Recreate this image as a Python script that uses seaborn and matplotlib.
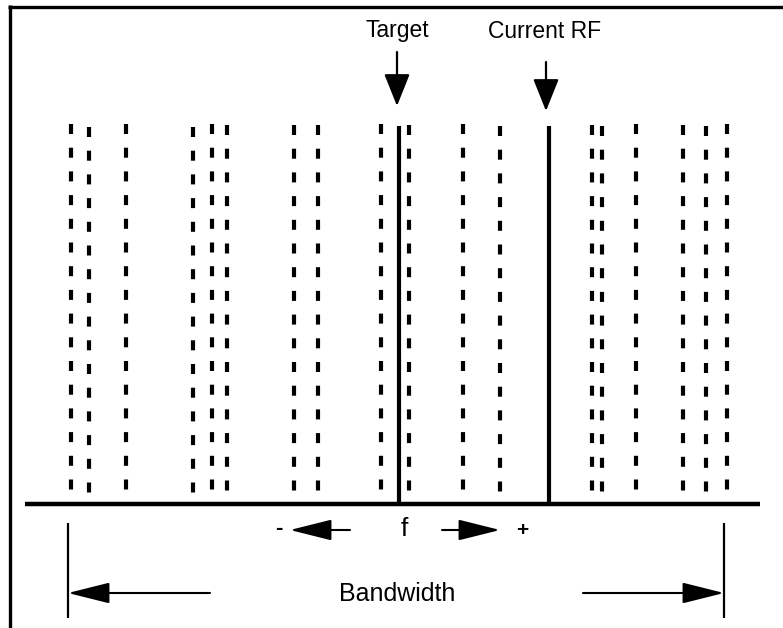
import seaborn as sns
import matplotlib.pyplot as plt

# channel columns (x in px of the diagram) and small vertical phase shift of the dashes
channels = [71, 89, 126, 193, 212, 227, 294, 318, 381, 409, 463, 500, 592, 602, 636, 683, 706, 727]
phase = [0, 3, 0, 3, 0, 1, 1, 1, 0, 1, 0, 2, 1, 2, 0, 1, 2, 0]
target_f = 399
current_rf = 549
band_lo, band_hi = 68, 724
labels = ['Target', 'Current RF', 'Bandwidth', 'f', '-', '+']

sns.set_style('white')
plt.rcParams['lines.scale_dashes'] = False
plt.rcParams['text.color'] = 'black'
plain = ['Liberation Sans', 'DejaVu Sans']

fig = plt.figure(figsize=(7.83, 6.28), dpi=100)
ax = fig.add_axes([0, 0, 1, 1])
ax.set_xlim(0, 783)
ax.set_ylim(628, 0)
ax.axis('off')

# frame
ax.plot([8, 783], [6.5, 6.5], color='black', lw=2.4, solid_capstyle='butt')
ax.plot([9.5, 9.5], [5, 628], color='black', lw=2.4, solid_capstyle='butt')

# dashed channel columns
period, dash = 23.7, 10
for x, p in zip(channels, phase):
    y0 = 124 + p
    ax.vlines(x, y0, y0 + 15 * period + dash, color='black', lw=3.0,
              linestyles=[(0, (dash * 0.72, (period - dash) * 0.72))])

# baseline and markers
ax.plot([25, 760], [504, 504], color='black', lw=3.2, solid_capstyle='butt')
ax.vlines([target_f, current_rf], 126, 504, color='black', lw=3.0)

def arrow(x0, y0, x1, y1, hl, hw, lw=1.5):
    ax.annotate('', xy=(x1, y1), xytext=(x0, y0),
                arrowprops=dict(arrowstyle=f'-|>,head_length={hl},head_width={hw}',
                                mutation_scale=1, color='black', lw=lw,
                                shrinkA=0, shrinkB=0))

arrow(target_f - 2, 52, target_f - 2, 106, 20, 8, 1.6)
arrow(current_rf - 3, 62, current_rf - 3, 111, 20, 8, 1.6)
ax.text(target_f - 2, 31, labels[0], ha='center', va='center', fontsize=16.5, family=plain)
ax.text(current_rf - 4, 31, labels[1], ha='center', va='center', fontsize=16.5, family=plain)

# f direction
arrow(350, 530, 290, 530, 26, 6.5, 1.5)
arrow(442, 530, 500, 530, 26, 6.5, 1.5)
ax.text(404, 529, labels[3], ha='center', va='center', fontsize=19, family=plain)
ax.text(279, 528, labels[4], ha='center', va='center', fontsize=16, fontweight='bold', family=plain)
ax.text(522, 531, labels[5], ha='center', va='center', fontsize=15, fontweight='bold', family=plain)

# bandwidth
ax.vlines([band_lo, band_hi], 523, 618, color='black', lw=1.6)
arrow(210, 593, band_lo, 593, 26, 6.5, 1.5)
arrow(583, 593, band_hi, 593, 26, 6.5, 1.5)
ax.text(397, 594, labels[2], ha='center', va='center', fontsize=18, family=plain)

fig.savefig('out.png', dpi=100, facecolor='white')
